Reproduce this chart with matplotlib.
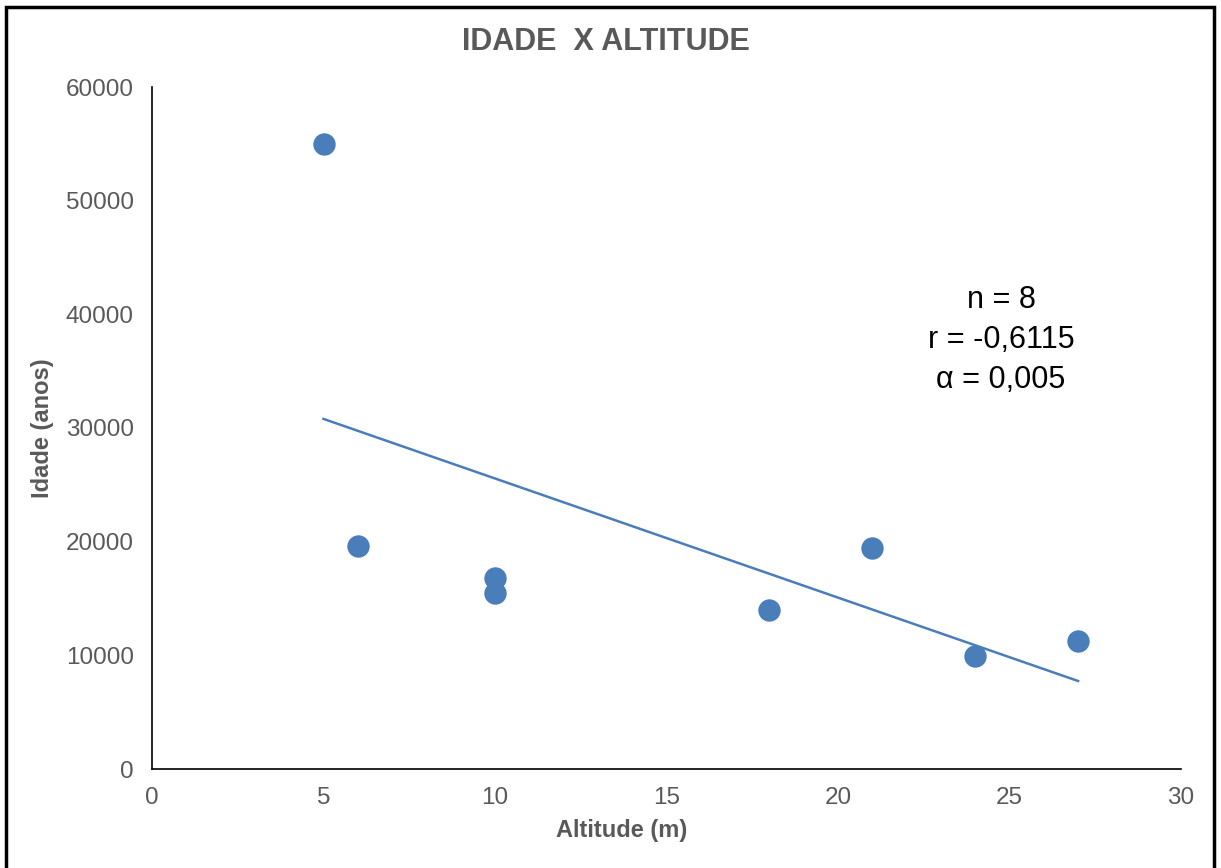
import matplotlib
matplotlib.use("Agg")
import matplotlib.pyplot as plt
import numpy as np
from matplotlib.patches import Rectangle

plt.rcParams['font.family'] = ['Liberation Sans', 'DejaVu Sans']

# Altitude (m) and age (years) of the sampled sites
altitude = [5, 6, 10, 10, 18, 21, 24, 27]
idade = [55000, 19600, 16800, 15500, 14000, 19400, 9900, 11300]

x_ticks = [0, 5, 10, 15, 20, 25, 30]
y_ticks = [0, 10000, 20000, 30000, 40000, 50000, 60000]

stats_lines = ["n = 8", "r = -0,6115", "\u03b1 = 0,005"]

blue = '#4A7EBB'
gray = '#595959'

W, H = 1221, 868
fig = plt.figure(figsize=(W / 100, H / 100), dpi=100)
ax = fig.add_axes([152 / W, 1 - 769 / H, (1181 - 152) / W, (769 - 87) / H])

ax.scatter(altitude, idade, s=260, color=blue, zorder=3, linewidths=0)

# Linear trend line across the data range
coef = np.polyfit(altitude, idade, 1)
xs = np.array([min(altitude), max(altitude)])
ax.plot(xs, np.polyval(coef, xs), color=blue, lw=1.8, zorder=2)

ax.set_xlim(0, 30)
ax.set_ylim(0, 60000)
ax.set_xticks(x_ticks)
ax.set_yticks(y_ticks)
ax.tick_params(length=0, labelsize=17.5, labelcolor=gray)
ax.tick_params(axis='y', pad=13)
ax.tick_params(axis='x', pad=13)
for side in ['top', 'right']:
    ax.spines[side].set_visible(False)
for side in ['left', 'bottom']:
    ax.spines[side].set_color('black')
    ax.spines[side].set_linewidth(1.2)

fig.text(622 / W, 1 - 830 / H, "Altitude (m)", ha='center', va='center',
         fontsize=17, fontweight='bold', color=gray)
fig.text(42 / W, 1 - 428 / H, "Idade (anos)", ha='center', va='center',
         rotation=90, fontsize=17, fontweight='bold', color=gray)

fig.text(606 / W, 1 - 42 / H, "IDADE  X ALTITUDE", ha='center', va='center',
         fontsize=22, fontweight='bold', color=gray)

for i, line in enumerate(stats_lines):
    fig.text(1001 / W, 1 - (300 + 40 * i) / H, line, ha='center', va='center',
             fontsize=22, color='black')

# Outer frame around the chart area
fig.patches.append(Rectangle((6 / W, -0.05), (1214 - 6) / W, 1.05 - 7 / H,
                             transform=fig.transFigure, fill=False,
                             edgecolor='black', linewidth=2.5))

fig.savefig("out.png", dpi=100)
